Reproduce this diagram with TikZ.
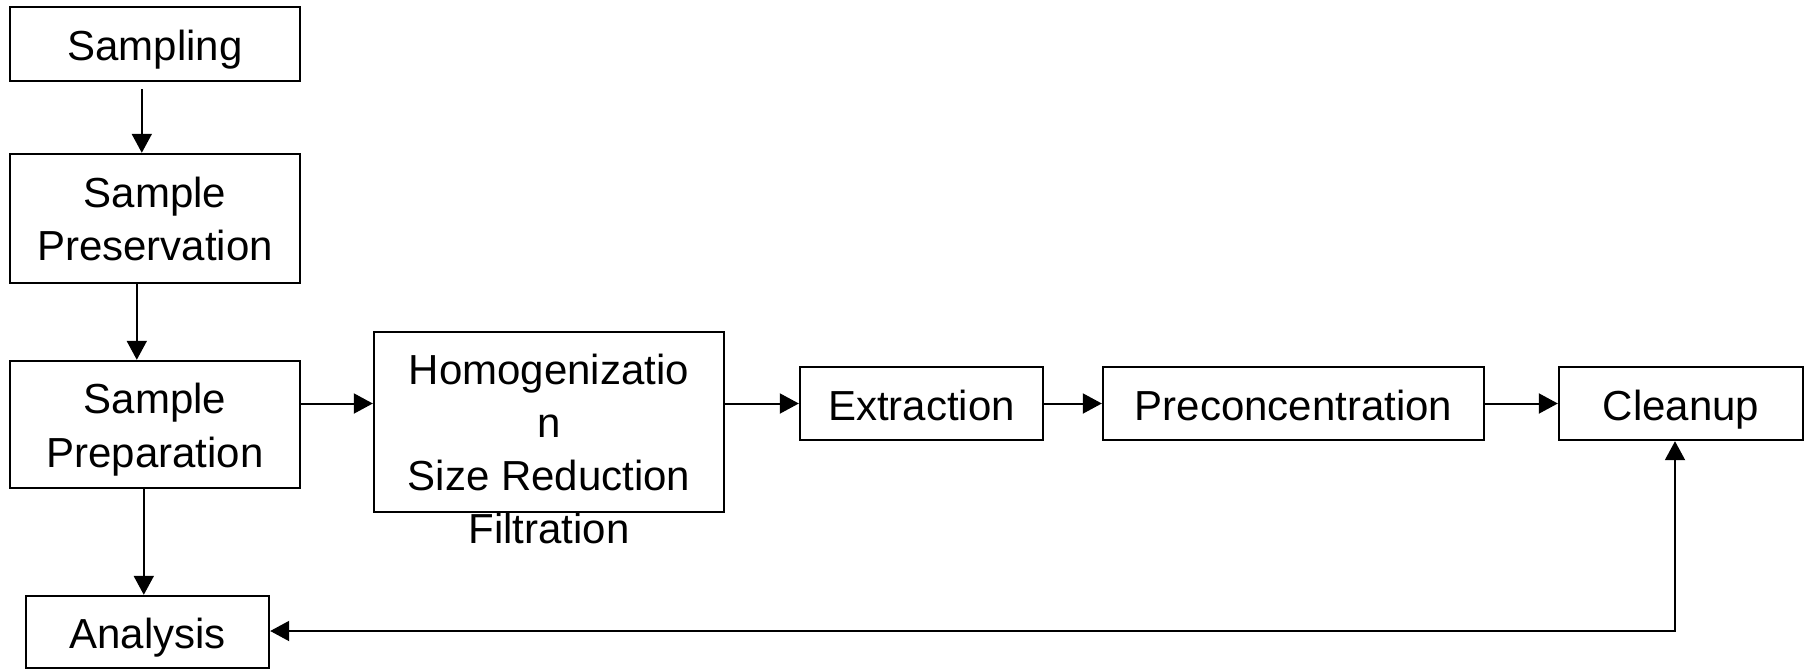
\documentclass[tikz,border=0pt]{standalone}
\usepackage{fontspec}
\setmainfont{Liberation Sans}
\usetikzlibrary{arrows.meta,positioning,calc}
\newcommand{\firstln}{\rule{0pt}{35pt}}
\begin{document}
\begin{tikzpicture}[x=1pt,y=-1pt,
  box/.style={draw, line width=2.4pt, rectangle, inner sep=0pt, align=center,
    font=\fontsize{42}{55}\selectfont},
  one/.style={text height=40pt, text depth=7pt},
  txt/.style={inner sep=0pt, align=center, anchor=north},
  arr/.style={line width=2pt, -{Triangle[length=19pt,width=20pt]}},
  arrb/.style={line width=2pt, {Triangle[length=19pt,width=20pt]}-{Triangle[length=19pt,width=20pt]}}]
\useasboundingbox (0,0) rectangle (1805,669);
\node[box, one, minimum width=290pt, minimum height=74pt] (samp) at (155,44) {Sampling};
\node[box, minimum width=290pt, minimum height=129pt] (pres) at (155,218.5) {};
\node[txt, font=\fontsize{42}{53}\selectfont] (prestxt) at (155,172) {\firstln Sample\\Preservation};
\node[box, minimum width=290pt, minimum height=127pt] (prep) at (155,424.5) {};
\node[txt, font=\fontsize{42}{54}\selectfont] (preptxt) at (155,378) {\firstln Sample\\Preparation};
\node[box, one, minimum width=243pt, minimum height=72pt] (anal) at (147.5,632) {Analysis};
\node[box, minimum width=350pt, minimum height=180pt] (homog) at (549,422) {};
\node[txt, font=\fontsize{42}{53}\selectfont] (homogtxt) at (549,349)
  {\firstln Homogenizatio\\n\\Size Reduction\\Filtration};
\node[box, one, minimum width=243pt, minimum height=73pt] (extr) at (921.5,403.5) {Extraction};
\node[box, one, minimum width=381pt, minimum height=73pt] (prec) at (1293.5,403.5) {Preconcentration};
\node[box, one, minimum width=244pt, minimum height=73pt] (clean) at (1681,403.5) {Cleanup};
\draw[arr] ([xshift=133pt,yshift=-7pt]samp.south west) -- ([xshift=133pt]pres.north west);
\draw[arr] ([xshift=128pt]pres.south west) -- ([xshift=128pt]prep.north west);
\draw[arr] ([xshift=135pt]prep.south west) -- ([xshift=135pt]prep.south west |- anal.north);
\draw[arr] (prep.east |- extr.west) -- (homog.west |- extr.west);
\draw[arr] (homog.east |- extr.west) -- (extr.west);
\draw[arr] (extr.east) -- (prec.west);
\draw[arr] (prec.east) -- (clean.west);
\coordinate (corner) at ([xshift=-6pt]clean.south |- 0,631);
\draw[arrb] ([xshift=-6pt]clean.south) -- (corner) -- (corner -| anal.east);
\end{tikzpicture}
\end{document}
